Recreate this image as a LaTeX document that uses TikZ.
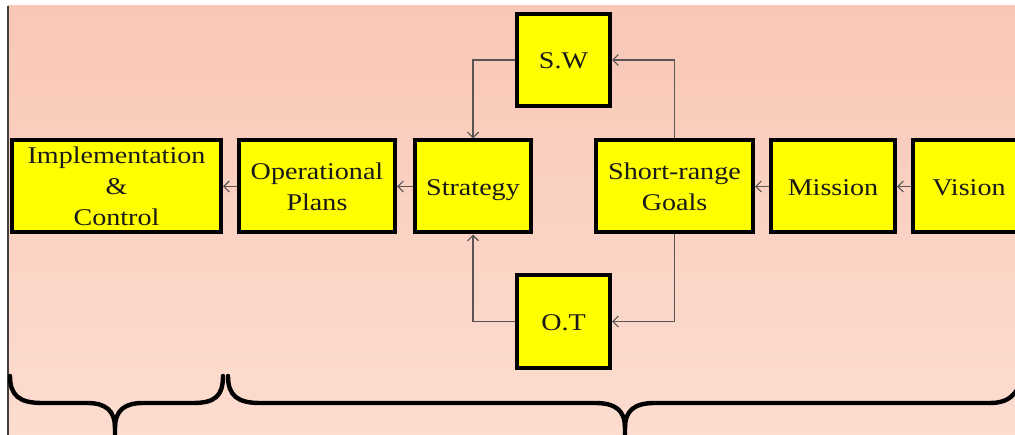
\documentclass[tikz,border=0pt]{standalone}
\usepackage{fontspec}
\setmainfont{Liberation Serif}[FakeStretch=1.17]
\usetikzlibrary{arrows.meta}
\definecolor{bgtop}{RGB}{249,199,182}
\definecolor{bgbot}{RGB}{252,221,208}
\definecolor{boxfill}{RGB}{255,255,0}
\definecolor{linkgray}{RGB}{90,84,84}
\tikzset{
  stagebox/.style={draw=black, line width=4pt, fill=boxfill, inner sep=0pt,
    align=center, font=\fontsize{24}{31}\selectfont, text=black!90},
  oneline/.style={text height=17.5pt, text depth=0pt},
  link/.style={draw=linkgray, line width=1.3pt,
    -{Straight Barb[length=5.5pt,width=11pt,line width=1.2pt]}},
  bracepath/.style={draw=black, line width=4.4pt, line cap=round},
}
\begin{document}
\begin{tikzpicture}[x=1pt,y=-1pt]
\useasboundingbox (0,0) rectangle (1015,435);
\clip (0,0) rectangle (1015,435);
% page background
\fill[white] (0,0) rectangle (1015,435);
\shade[top color=bgtop, bottom color=bgbot] (8,6) rectangle (1015,435);
\draw[line width=2pt, black!75] (8,6) -- (8,435);

% boxes
\node[stagebox, minimum width=209, minimum height=92] (impl) at (116.5,186.5) {Implementation\\\&\\Control};
\node[stagebox, minimum width=156, minimum height=92] (ops) at (317,186.5) {Operational\\Plans};
\node[stagebox, oneline, minimum width=116, minimum height=92] (strat) at (473,186.5) {Strategy};
\node[stagebox, oneline, minimum width=93, minimum height=92] (sw) at (563.5,60) {S.W};
\node[stagebox, oneline, minimum width=93, minimum height=93] (ot) at (563.5,321.5) {O.T};
\node[stagebox, minimum width=157, minimum height=92] (short) at (674.5,186.5) {Short-range\\Goals};
\node[stagebox, oneline, minimum width=124, minimum height=92] (mission) at (833,186.5) {Mission};
\node[stagebox, oneline, minimum width=112, minimum height=92] (vision) at (969,186.5) {Vision};

% connectors
\draw[link] (vision.west) -- (mission.east);
\draw[link] (mission.west) -- (short.east);
\draw[link] (strat.west) -- (ops.east);
\draw[link] (ops.west) -- (impl.east);
\draw[link] (sw.west) -| (strat.north);
\draw[link] (ot.west) -| (strat.south);
\draw[link] (short.north) |- (sw.east);
\draw[link] (short.south) |- (ot.east);

% braces
\draw[bracepath] (10,376) .. controls (10,396) and (20,403) .. (42,403) -- (87,403)
  .. controls (105,403) and (115,410) .. (115,428) -- (115,440);
\draw[bracepath] (115,428) .. controls (115,410) and (125,403) .. (143,403) -- (193,403)
  .. controls (215,403) and (223,396) .. (223,376);
\draw[bracepath] (228,376) .. controls (228,396) and (238,403) .. (260,403) -- (595,403)
  .. controls (615,403) and (625,410) .. (625,428) -- (625,440);
\draw[bracepath] (625,428) .. controls (625,410) and (635,403) .. (655,403) -- (990,403)
  .. controls (1005,403) and (1013,398) .. (1020,385);
\end{tikzpicture}
\end{document}
